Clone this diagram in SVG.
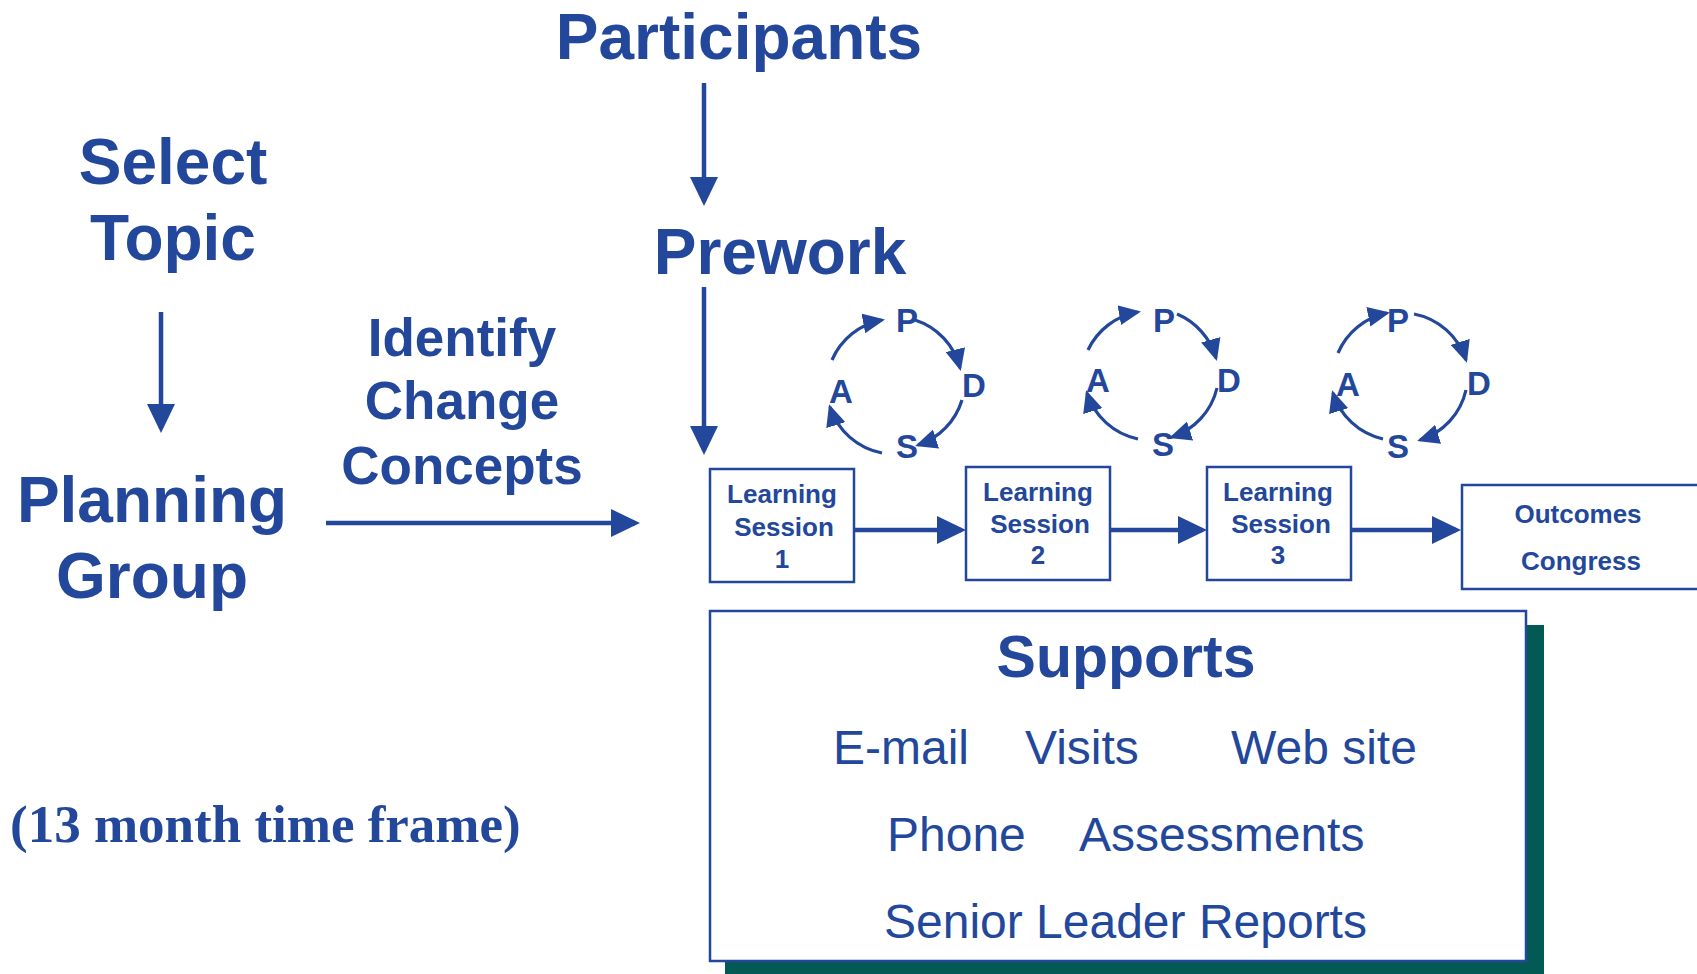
<svg xmlns="http://www.w3.org/2000/svg" width="1697" height="974" viewBox="0 0 1697 974">
<style>
.t{fill:#23479b;font-family:"Liberation Sans",Arial,sans-serif;font-weight:bold}
.big{font-size:64px}
.mid{font-size:53px}
.sm{font-size:26px}
.pd{font-size:33px}
.reg{fill:#23479b;font-family:"Liberation Sans",Arial,sans-serif;font-size:48px}
.ser{fill:#23479b;font-family:"Liberation Serif","Times New Roman",serif;font-weight:bold;font-size:53px}
.box{fill:#fff;stroke:#23479b;stroke-width:2.5}
.ln{fill:none;stroke:#23479b;stroke-width:4.5}
.arc{fill:none;stroke:#23479b;stroke-width:3.2}
</style>
<defs>
<marker id="ah" markerUnits="userSpaceOnUse" viewBox="0 0 29 28" refX="24" refY="14" markerWidth="29" markerHeight="28" orient="auto">
<path d="M0,0 L29,14 L0,28 z" fill="#23479b"/>
</marker>
<marker id="sh" markerUnits="userSpaceOnUse" viewBox="0 0 22 20" refX="19" refY="10" markerWidth="22" markerHeight="20" orient="auto">
<path d="M0,0 L22,10 L0,20 z" fill="#23479b"/>
</marker>
</defs>
<rect width="1697" height="974" fill="#fff"/>

<g id="participants"><text class="t big" x="739" y="59" text-anchor="middle">Participants</text></g>
<g id="select-topic"><text class="t big" x="173" y="184" text-anchor="middle">Select</text><text class="t big" x="173" y="260" text-anchor="middle">Topic</text></g>
<g id="prework"><text class="t big" x="780" y="274" text-anchor="middle">Prework</text></g>
<g id="planning-group"><text class="t big" x="152" y="522" text-anchor="middle">Planning</text><text class="t big" x="152" y="598" text-anchor="middle">Group</text></g>
<g id="identify"><text class="t mid" x="462" y="356" text-anchor="middle">Identify</text><text class="t mid" x="462" y="419" text-anchor="middle">Change</text><text class="t mid" x="462" y="484" text-anchor="middle">Concepts</text></g>

<g id="ls1"><rect class="box" x="710" y="469" width="144" height="113"/><text class="t sm" x="782" y="503" text-anchor="middle">Learning</text><text class="t sm" x="784" y="536" text-anchor="middle">Session</text><text class="t sm" x="782" y="568" text-anchor="middle">1</text></g>
<g id="ls2"><rect class="box" x="966" y="467" width="144" height="113"/><text class="t sm" x="1038" y="501" text-anchor="middle">Learning</text><text class="t sm" x="1040" y="533" text-anchor="middle">Session</text><text class="t sm" x="1038" y="564" text-anchor="middle">2</text></g>
<g id="ls3"><rect class="box" x="1207" y="467" width="144" height="113"/><text class="t sm" x="1278" y="501" text-anchor="middle">Learning</text><text class="t sm" x="1281" y="533" text-anchor="middle">Session</text><text class="t sm" x="1278" y="564" text-anchor="middle">3</text></g>
<g id="outcomes"><rect class="box" x="1462" y="485" width="260" height="104"/><text class="t sm" x="1578" y="523" text-anchor="middle">Outcomes</text><text class="t sm" x="1581" y="570" text-anchor="middle">Congress</text></g>

<g id="pdsa1">
<text class="t pd" x="907" y="332" text-anchor="middle">P</text>
<text class="t pd" x="974" y="397" text-anchor="middle">D</text>
<text class="t pd" x="907" y="458" text-anchor="middle">S</text>
<text class="t pd" x="841" y="403" text-anchor="middle">A</text>
</g>
<g id="pdsa2">
<text class="t pd" x="1164" y="332" text-anchor="middle">P</text>
<text class="t pd" x="1229" y="392" text-anchor="middle">D</text>
<text class="t pd" x="1163" y="456" text-anchor="middle">S</text>
<text class="t pd" x="1098" y="392" text-anchor="middle">A</text>
</g>
<g id="pdsa3">
<text class="t pd" x="1398" y="332" text-anchor="middle">P</text>
<text class="t pd" x="1479" y="395" text-anchor="middle">D</text>
<text class="t pd" x="1398" y="458" text-anchor="middle">S</text>
<text class="t pd" x="1348" y="396" text-anchor="middle">A</text>
</g>

<g id="supports">
<rect x="725" y="625" width="819" height="352" fill="#035a55"/>
<rect x="710" y="611" width="816" height="350" fill="#fff" stroke="#23479b" stroke-width="2.5"/>
<text class="t" style="font-size:59px" x="1126" y="677" text-anchor="middle">Supports</text>
<text class="reg" x="833" y="764">E-mail</text>
<text class="reg" x="1025" y="764">Visits</text>
<text class="reg" x="1231" y="764">Web site</text>
<text class="reg" x="887" y="851">Phone</text>
<text class="reg" x="1079" y="851">Assessments</text>
<text class="reg" x="884" y="938">Senior Leader Reports</text>
</g>

<g id="timeframe"><text class="ser" x="10" y="842">(13 month time frame)</text></g>

<g id="connectors">
<line class="ln" x1="704" y1="83" x2="704" y2="201" marker-end="url(#ah)"/>
<line class="ln" x1="161" y1="312" x2="161" y2="428" marker-end="url(#ah)"/>
<line class="ln" x1="704" y1="287" x2="704" y2="450" marker-end="url(#ah)"/>
<line class="ln" x1="326" y1="523" x2="635" y2="523" marker-end="url(#ah)"/>
<line class="ln" x1="854" y1="530" x2="961" y2="530" marker-end="url(#ah)"/>
<line class="ln" x1="1110" y1="530" x2="1202" y2="530" marker-end="url(#ah)"/>
<line class="ln" x1="1351" y1="530" x2="1456" y2="530" marker-end="url(#ah)"/>

<path class="arc" d="M832,360 A68,68 0 0 1 882,320" marker-end="url(#sh)"/>
<path class="arc" d="M915,320 A68,68 0 0 1 960,368" marker-end="url(#sh)"/>
<path class="arc" d="M962,400 A68,68 0 0 1 918,445" marker-end="url(#sh)"/>
<path class="arc" d="M882,453 A68,68 0 0 1 830,407" marker-end="url(#sh)"/>

<path class="arc" d="M1088,350 A68,68 0 0 1 1138,312" marker-end="url(#sh)"/>
<path class="arc" d="M1177,314 A68,68 0 0 1 1216,358" marker-end="url(#sh)"/>
<path class="arc" d="M1217,388 A68,68 0 0 1 1172,437" marker-end="url(#sh)"/>
<path class="arc" d="M1138,439 A68,68 0 0 1 1087,393" marker-end="url(#sh)"/>

<path class="arc" d="M1338,353 A68,68 0 0 1 1387,313" marker-end="url(#sh)"/>
<path class="arc" d="M1414,314 A68,68 0 0 1 1466,360" marker-end="url(#sh)"/>
<path class="arc" d="M1466,390 A68,68 0 0 1 1420,440" marker-end="url(#sh)"/>
<path class="arc" d="M1383,439 A68,68 0 0 1 1333,393" marker-end="url(#sh)"/>
</g>
</svg>
